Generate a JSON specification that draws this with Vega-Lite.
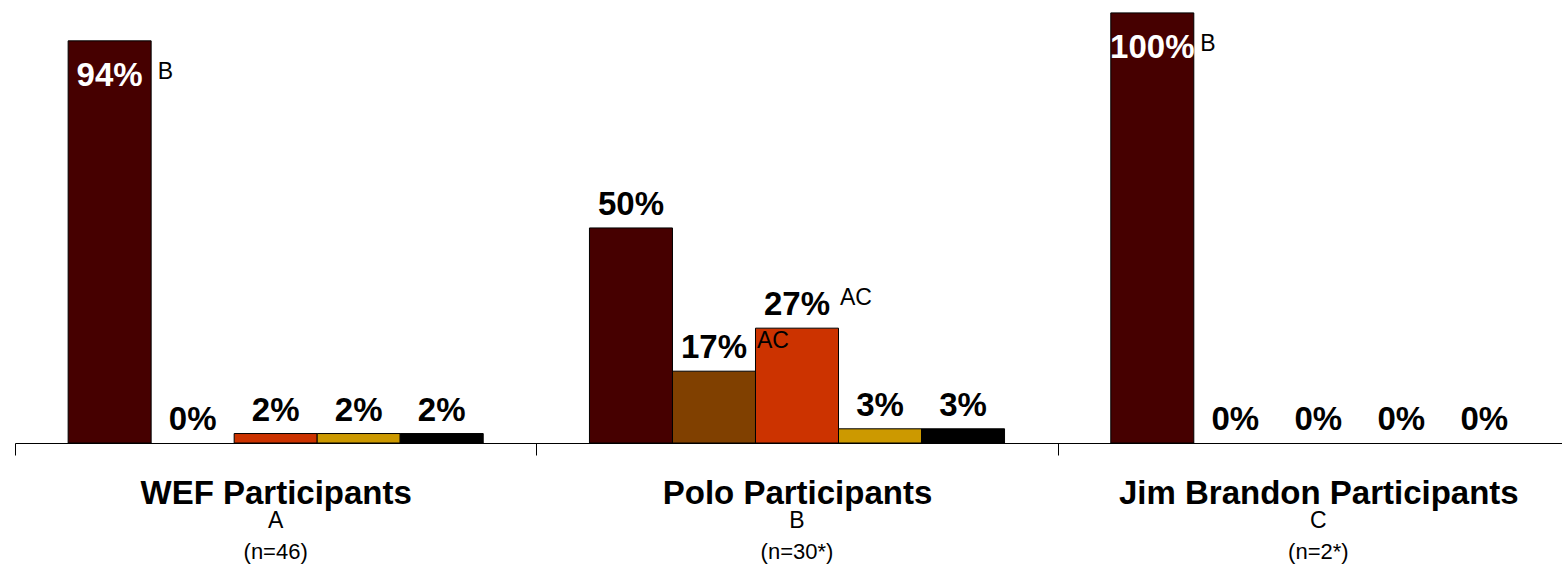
{
  "$schema": "https://vega.github.io/schema/vega-lite/v6.json",
  "autosize": {"type": "none"},
  "width": 1564,
  "height": 443,
  "padding": {"left": 15, "right": 0, "top": 0, "bottom": 123},
  "background": "white",
  "config": {"view": {"stroke": null}, "font": "Liberation Sans"},
  "datasets": {
    "bars": [
      {"group": "WEF Participants", "response": "R1", "value": 93.5, "label": "94%", "sup": "B"},
      {"group": "WEF Participants", "response": "R2", "value": 0, "label": "0%", "sup": ""},
      {"group": "WEF Participants", "response": "R3", "value": 2.2, "label": "2%", "sup": ""},
      {"group": "WEF Participants", "response": "R4", "value": 2.2, "label": "2%", "sup": ""},
      {"group": "WEF Participants", "response": "R5", "value": 2.2, "label": "2%", "sup": ""},
      {"group": "Polo Participants", "response": "R1", "value": 50, "label": "50%", "sup": ""},
      {"group": "Polo Participants", "response": "R2", "value": 16.7, "label": "17%", "sup": "AC"},
      {"group": "Polo Participants", "response": "R3", "value": 26.7, "label": "27%", "sup": "AC"},
      {"group": "Polo Participants", "response": "R4", "value": 3.3, "label": "3%", "sup": ""},
      {"group": "Polo Participants", "response": "R5", "value": 3.3, "label": "3%", "sup": ""},
      {"group": "Jim Brandon Participants", "response": "R1", "value": 100, "label": "100%", "sup": "B"},
      {"group": "Jim Brandon Participants", "response": "R2", "value": 0, "label": "0%", "sup": ""},
      {"group": "Jim Brandon Participants", "response": "R3", "value": 0, "label": "0%", "sup": ""},
      {"group": "Jim Brandon Participants", "response": "R4", "value": 0, "label": "0%", "sup": ""},
      {"group": "Jim Brandon Participants", "response": "R5", "value": 0, "label": "0%", "sup": ""}
    ],
    "groups": [
      {"group": "WEF Participants", "letter": "A", "n": "(n=46)"},
      {"group": "Polo Participants", "letter": "B", "n": "(n=30*)"},
      {"group": "Jim Brandon Participants", "letter": "C", "n": "(n=2*)"}
    ]
  },
  "encoding": {
    "x": {
      "field": "group",
      "type": "nominal",
      "sort": ["WEF Participants", "Polo Participants", "Jim Brandon Participants"],
      "scale": {"paddingInner": 0, "paddingOuter": 0},
      "axis": {
        "title": null,
        "labelAngle": 0,
        "labelFont": "Liberation Sans",
        "labelFontSize": 33,
        "labelFontWeight": "bold",
        "labelColor": "black",
        "labelBaseline": "alphabetic",
        "labelPadding": 48,
        "labelLimit": 0,
        "tickBand": "extent",
        "tickSize": 12,
        "tickColor": "black",
        "domainColor": "black",
        "domainWidth": 1
      }
    }
  },
  "layer": [
    {
      "data": {"name": "bars"},
      "transform": [{"filter": "datum.value > 0"}],
      "mark": {"type": "bar", "stroke": "black", "strokeWidth": 1},
      "encoding": {
        "xOffset": {"field": "response", "type": "nominal", "scale": {"domain": ["R1", "R2", "R3", "R4", "R5"], "paddingInner": 0, "paddingOuter": 0.64}},
        "y": {"field": "value", "type": "quantitative", "scale": {"domain": [0, 103], "nice": false}, "axis": null},
        "color": {
          "field": "response",
          "type": "nominal",
          "scale": {"domain": ["R1", "R2", "R3", "R4", "R5"], "range": ["#460000", "#804000", "#cc3300", "#cc9900", "#000000"]},
          "legend": null
        }
      }
    },
    {
      "data": {"name": "bars"},
      "transform": [{"filter": "datum.value < 80"}],
      "mark": {"type": "text", "baseline": "alphabetic", "align": "center", "dy": -13, "fontSize": 33, "fontWeight": "bold", "color": "black"},
      "encoding": {
        "xOffset": {"field": "response", "type": "nominal", "scale": {"domain": ["R1", "R2", "R3", "R4", "R5"], "paddingInner": 0, "paddingOuter": 0.64}},
        "y": {"field": "value", "type": "quantitative"},
        "text": {"field": "label"}
      }
    },
    {
      "data": {"name": "bars"},
      "transform": [{"filter": "datum.value >= 80"}],
      "mark": {"type": "text", "baseline": "alphabetic", "align": "center", "dy": 45, "fontSize": 33, "fontWeight": "bold", "color": "white"},
      "encoding": {
        "xOffset": {"field": "response", "type": "nominal", "scale": {"domain": ["R1", "R2", "R3", "R4", "R5"], "paddingInner": 0, "paddingOuter": 0.64}},
        "y": {"field": "value", "type": "quantitative"},
        "text": {"field": "label"}
      }
    },
    {
      "data": {"name": "bars"},
      "transform": [{"filter": "datum.sup != '' && datum.value < 80"}],
      "mark": {"type": "text", "baseline": "alphabetic", "align": "left", "dx": 43, "dy": -23, "fontSize": 23, "color": "black"},
      "encoding": {
        "xOffset": {"field": "response", "type": "nominal", "scale": {"domain": ["R1", "R2", "R3", "R4", "R5"], "paddingInner": 0, "paddingOuter": 0.64}},
        "y": {"field": "value", "type": "quantitative"},
        "text": {"field": "sup"}
      }
    },
    {
      "data": {"name": "bars"},
      "transform": [{"filter": "datum.sup != '' && datum.value >= 80"}],
      "mark": {"type": "text", "baseline": "alphabetic", "align": "left", "dx": 48, "dy": 38, "fontSize": 23, "color": "black"},
      "encoding": {
        "xOffset": {"field": "response", "type": "nominal", "scale": {"domain": ["R1", "R2", "R3", "R4", "R5"], "paddingInner": 0, "paddingOuter": 0.64}},
        "y": {"field": "value", "type": "quantitative"},
        "text": {"field": "sup"}
      }
    },
    {
      "data": {"name": "groups"},
      "mark": {"type": "text", "baseline": "alphabetic", "align": "center", "dy": 85, "fontSize": 23, "color": "black"},
      "encoding": {
        "y": {"datum": 0, "type": "quantitative"},
        "text": {"field": "letter"}
      }
    },
    {
      "data": {"name": "groups"},
      "mark": {"type": "text", "baseline": "alphabetic", "align": "center", "dy": 116, "fontSize": 22, "color": "black"},
      "encoding": {
        "y": {"datum": 0, "type": "quantitative"},
        "text": {"field": "n"}
      }
    }
  ]
}
